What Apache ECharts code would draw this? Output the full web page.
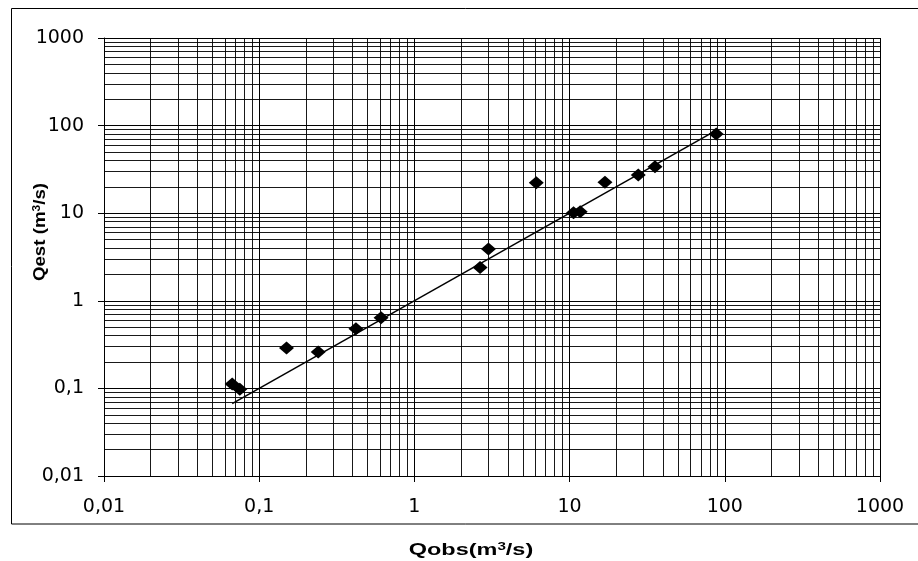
<!DOCTYPE html>
<html>
<head>
<meta charset="utf-8">
<script src="https://cdn.jsdelivr.net/npm/echarts@6/dist/echarts.min.js"></script>
<style>
html,body{margin:0;padding:0;background:#fff;}
#chart{width:918px;height:561px;}
</style>
</head>
<body>
<div id="chart"></div>
<script>
// Observed discharge (m3/s)
var qobs = [0.067, 0.075, 0.15, 0.24, 0.42, 0.61, 2.65, 3.0, 6.1, 10.6, 11.7, 16.9, 27.7, 35.5, 88];
// Estimated discharge (m3/s)
var qest = [0.112, 0.098, 0.29, 0.26, 0.48, 0.64, 2.4, 3.9, 22.3, 10.1, 10.4, 22.5, 27.3, 34, 80];
// 1:1 trend line end points
var trendX = [0.067, 88];
var trendY = [0.067, 88];
// axis range
var axisMin = 0.01;
var axisMax = 1000;
var xTitleParts = ['Qobs(m', '3', '/s)'];
var yTitleParts = ['Qest (m', '3', '/s)'];

// minor grid values (2..9 times each decade)
var minorGrid = [];
for (var d = axisMin; d < axisMax * 0.999; d *= 10) {
  for (var k = 2; k <= 9; k++) minorGrid.push(Number((d * k).toPrecision(6)));
}

function fmt(v) { return String(Number(Number(v).toPrecision(6))).replace('.', ','); }
function titleText(p) { return '{b|' + p[0] + '}{s|' + p[1] + '}{b|' + p[2] + '}'; }
var titleRich = {
  b: {fontFamily: 'Liberation Sans', fontWeight: 'bold', fontSize: 17, lineHeight: 18, fill: '#000', color: '#000'},
  s: {fontFamily: 'Liberation Sans', fontWeight: 'bold', fontSize: 11, lineHeight: 11, verticalAlign: 'top', fill: '#000', color: '#000'}
};

var chart = echarts.init(document.getElementById('chart'), null, {renderer: 'canvas'});
var labelFont = {fontFamily: 'DejaVu Sans', fontSize: 19, color: '#000'};

var mlData = [];
minorGrid.forEach(function (v) { mlData.push({xAxis: v}); mlData.push({yAxis: v}); });

var option = {
  animation: false,
  backgroundColor: '#fff',
  grid: {left: 104, top: 38, width: 776, height: 438, show: false},
  xAxis: {
    type: 'log', logBase: 10, min: axisMin, max: axisMax,
    axisLine: {show: true, lineStyle: {color: '#000', width: 1}},
    axisTick: {show: true, length: 6, lineStyle: {color: '#000'}},
    axisLabel: Object.assign({margin: 22, formatter: fmt}, labelFont),
    splitLine: {show: true, lineStyle: {color: '#000', width: 1}},
    minorTick: {show: false}, minorSplitLine: {show: false}
  },
  yAxis: {
    type: 'log', logBase: 10, min: axisMin, max: axisMax,
    axisLine: {show: true, lineStyle: {color: '#000', width: 1}},
    axisTick: {show: true, length: 6, lineStyle: {color: '#000'}},
    axisLabel: Object.assign({margin: 20, formatter: fmt}, labelFont),
    splitLine: {show: true, lineStyle: {color: '#000', width: 1}},
    minorTick: {show: false}, minorSplitLine: {show: false}
  },
  series: [
    {
      type: 'scatter', data: [], z: 1, silent: true,
      markLine: {
        silent: true, symbol: ['none', 'none'], animation: false,
        label: {show: false},
        lineStyle: {color: '#000', width: 1, type: 'solid', opacity: 0.9},
        emphasis: {disabled: true},
        data: mlData
      }
    },
    {
      type: 'line', z: 3,
      data: trendX.map(function (x, i) { return [x, trendY[i]]; }),
      showSymbol: false, symbol: 'none',
      lineStyle: {color: '#000', width: 1.5}
    },
    {
      type: 'scatter', z: 4,
      data: qobs.map(function (x, i) { return [x, qest[i]]; }),
      symbol: 'diamond', symbolSize: [15, 13],
      itemStyle: {color: '#000', opacity: 1}
    }
  ],
  graphic: [
    {
      type: 'rect', z: 100, silent: true,
      shape: {x: 11.5, y: 8.5, width: 920, height: 515.5},
      style: {fill: 'none', stroke: '#000', lineWidth: 1}
    },
    {
      type: 'text', z: 100, x: 471, y: 550, scaleX: 1.38,
      style: {text: titleText(xTitleParts), rich: titleRich, fill: '#000',
              align: 'center', verticalAlign: 'middle'}
    },
    {
      type: 'text', z: 100, x: 40, y: 232, rotation: Math.PI / 2, scaleX: 1.1,
      style: {text: titleText(yTitleParts), rich: titleRich, fill: '#000',
              align: 'center', verticalAlign: 'middle'}
    }
  ]
};
chart.setOption(option);
</script>
</body>
</html>
